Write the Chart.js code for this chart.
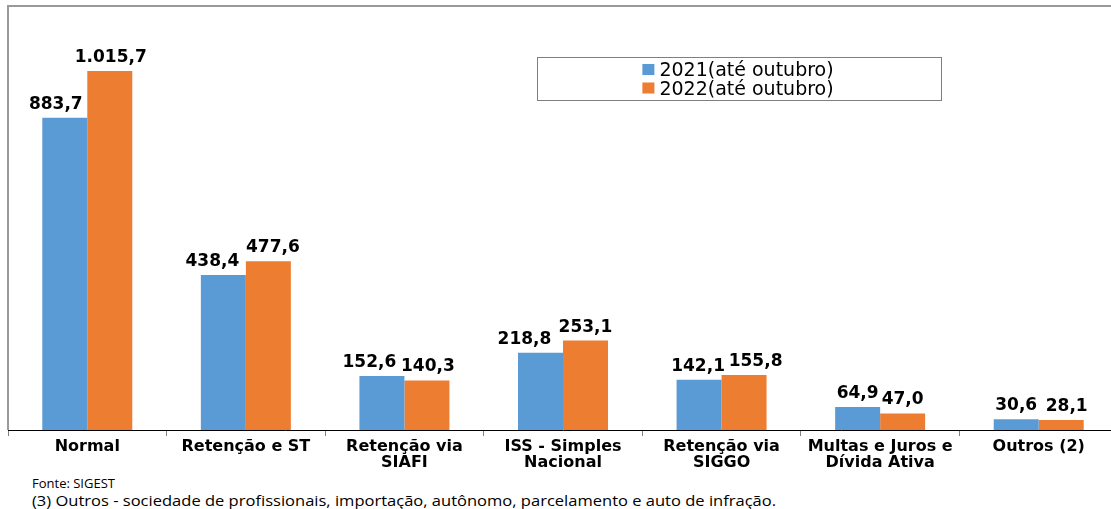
<!DOCTYPE html>
<html lang="pt-BR">
<head>
<meta charset="utf-8">
<title>Arrecadação por modalidade</title>
<script src="https://cdn.jsdelivr.net/npm/chart.js@4.4.0/dist/chart.umd.min.js"></script>
<style>
    html, body { margin: 0; padding: 0; background: #fff; overflow: hidden; }
    #wrap { position: relative; width: 1111px; height: 509px; overflow: hidden; }
    #grafico { position: absolute; left: 0; top: 0; }
    .nota { position: absolute; left: 32px; font-family: "Open Sans", sans-serif; font-size: 13px; color: #000; white-space: nowrap; transform-origin: left top; }
    .nota.larga { font-size: 14px; transform: scaleX(1.18); }
</style>
</head>
<body>
<div id="wrap">
    <canvas id="grafico" width="1120" height="474"></canvas>
    <div class="nota" style="top:474px">Fonte: SIGEST</div>
    <div class="nota larga" style="top:491px">(3) Outros - sociedade de profissionais, importação, autônomo, parcelamento e auto de infração.</div>
</div>
<script>
    // Dados do gráfico
    var categorias = [
        'Normal',
        'Retenção e ST',
        ['Retenção via', 'SIAFI'],
        ['ISS - Simples', 'Nacional'],
        ['Retenção via', 'SIGGO'],
        ['Multas e Juros e', 'Dívida Ativa'],
        'Outros (2)'
    ];
    var serie2021 = [883.7, 438.4, 152.6, 218.8, 142.1, 64.9, 30.6];
    var serie2022 = [1015.7, 477.6, 140.3, 253.1, 155.8, 47.0, 28.1];
    var nomesSeries = ['2021(até outubro)', '2022(até outubro)'];
    var coresSeries = ['#5b9bd5', '#ed7d31'];
    var limitesY = [0, 1200];

    // deslocamento horizontal dos rótulos (px), como no original
    var ajusteRotulos = [
        [-9, -11, -12.5, -16, -1, 0, 0],
        [1, 4.5, 1, 0, 11.5, 0, 5.5]
    ];

    // formato pt-BR: 1.015,7
    function formata(v) {
        var partes = v.toFixed(1).split('.');
        var inteiro = partes[0].replace(/\B(?=(\d{3})+(?!\d))/g, '.');
        return inteiro + ',' + partes[1];
    }

    var rotulosBarras = {
        id: 'rotulosBarras',
        afterDatasetsDraw: function(chart) {
            var ctx = chart.ctx;
            ctx.save();
            ctx.font = 'bold 17px "DejaVu Sans"';
            ctx.fillStyle = '#000';
            ctx.textAlign = 'center';
            ctx.textBaseline = 'alphabetic';
            chart.data.datasets.forEach(function(ds, i) {
                chart.getDatasetMeta(i).data.forEach(function(bar, j) {
                    var dx = (ajusteRotulos[i] && ajusteRotulos[i][j]) || 0;
                    ctx.fillText(formata(ds.data[j]), bar.x + dx, bar.y - 9);
                });
            });
            ctx.restore();
        }
    };

    var moldura = {
        id: 'moldura',
        beforeDatasetsDraw: function(chart) {
            var ctx = chart.ctx, a = chart.chartArea;
            ctx.save();
            ctx.strokeStyle = '#9a9a9a';
            ctx.lineWidth = 2;
            ctx.beginPath();
            ctx.moveTo(a.left, a.bottom);
            ctx.lineTo(a.left, a.top);
            ctx.lineTo(chart.width, a.top);
            ctx.stroke();
            ctx.restore();
        }
    };

    var legendaCaixa = {
        id: 'legendaCaixa',
        afterDraw: function(chart) {
            var ctx = chart.ctx;
            var bx = 537, by = 57, bw = 404, bh = 43;
            ctx.save();
            ctx.fillStyle = '#fff';
            ctx.fillRect(bx, by, bw, bh);
            ctx.strokeStyle = '#7f7f7f';
            ctx.lineWidth = 1;
            ctx.strokeRect(bx + 0.5, by + 0.5, bw, bh);
            ctx.font = '19px "DejaVu Sans"';
            ctx.textBaseline = 'alphabetic';
            ctx.textAlign = 'left';
            chart.data.datasets.forEach(function(ds, i) {
                var tw = ctx.measureText(ds.label).width;
                var x0 = bx + (bw - (12 + 5 + tw)) / 2 - 1;
                var base = by + 19 + i * 18.5;
                ctx.fillStyle = ds.backgroundColor;
                ctx.fillRect(x0, base - 12, 12, 11);
                ctx.fillStyle = '#000';
                ctx.fillText(ds.label, x0 + 17, base);
            });
            ctx.restore();
        }
    };

    new Chart(document.getElementById('grafico'), {
        type: 'bar',
        data: {
            labels: categorias,
            datasets: [{
                label: nomesSeries[0],
                data: serie2021,
                backgroundColor: coresSeries[0],
                borderWidth: 0,
                barPercentage: 1,
                categoryPercentage: 0.5675
            }, {
                label: nomesSeries[1],
                data: serie2022,
                backgroundColor: coresSeries[1],
                borderWidth: 0,
                barPercentage: 1,
                categoryPercentage: 0.5675
            }]
        },
        options: {
            responsive: false,
            animation: false,
            events: [],
            layout: { padding: { left: 8, top: 6, right: 2, bottom: 0 } },
            plugins: {
                legend: { display: false },
                tooltip: { enabled: false }
            },
            scales: {
                x: {
                    grid: { drawOnChartArea: false, drawTicks: true, tickLength: 6, color: '#808080', offset: true },
                    border: { display: true, color: '#000', width: 1 },
                    ticks: {
                        color: '#000',
                        font: { family: 'DejaVu Sans', weight: 'bold', size: 16, lineHeight: 1.0 },
                        padding: 3,
                        maxRotation: 0,
                        autoSkip: false
                    }
                },
                y: {
                    display: false,
                    min: limitesY[0],
                    max: limitesY[1]
                }
            }
        },
        plugins: [moldura, rotulosBarras, legendaCaixa]
    });
</script>
</body>
</html>
